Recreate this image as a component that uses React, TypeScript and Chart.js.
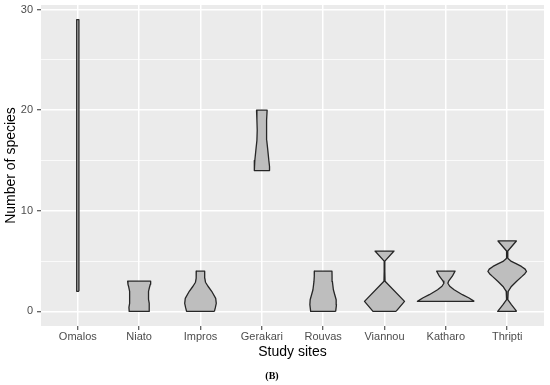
import React, { useEffect, useRef } from 'react';
import { Chart, registerables } from 'chart.js';

Chart.register(...registerables);

// Categories and axis ticks
const sites = ['Omalos', 'Niato', 'Impros', 'Gerakari', 'Rouvas', 'Viannou', 'Katharo', 'Thripti'];
const yTicks = [0, 5, 10, 15, 20, 25, 30];

// Violin profiles: number-of-species levels (ascending) and relative density widths
const omalosLevels = [2, 15, 29];
const omalosWidths = [0.04, 0.04, 0.04];

const niatoLevels = [0, 0.4, 0.8, 1.2, 1.6, 2, 2.4, 2.7, 3];
const niatoWidths = [0.36, 0.37, 0.36, 0.34, 0.335, 0.345, 0.375, 0.405, 0.417];

const imprIosLevels = [0, 0.35, 0.8, 1.3, 2, 2.5, 2.9, 3.3, 4];
const imprIosWidths = [0.504, 0.536, 0.572, 0.551, 0.406, 0.272, 0.181, 0.156, 0.152];

const gerakariLevels = [14, 14.4, 15, 16, 17, 18, 19, 20];
const gerakariWidths = [0.264, 0.279, 0.254, 0.217, 0.178, 0.167, 0.178, 0.192];

const rouvasLevels = [0, 0.67, 1.16, 1.66, 2.15, 2.98, 3.5, 4];
const rouvasWidths = [0.453, 0.482, 0.471, 0.42, 0.37, 0.333, 0.322, 0.319];

const viannouLevels = [0, 1, 3, 4, 5, 6];
const viannouWidths = [0.417, 0.725, 0.02, 0.012, 0.012, 0.344];

const katharoLevels = [1, 1.33, 1.66, 2.15, 2.5, 2.8, 3, 3.5, 4];
const katharoWidths = [1.03, 0.84, 0.6, 0.3, 0.14, 0.072, 0.1, 0.235, 0.333];

const thriptiLevels = [0, 0.67, 1.16, 1.99, 2.48, 2.98, 3.48, 3.75, 3.97, 4.2, 4.47, 4.75, 4.97, 5.2, 5.3, 6, 7];
const thriptiWidths = [0.344, 0.152, 0.022, 0.036, 0.152, 0.333, 0.536, 0.64, 0.7, 0.65, 0.514, 0.32, 0.152, 0.05, 0.022, 0.022, 0.333];

const profiles: [number[], number[]][] = [
  [omalosLevels, omalosWidths],
  [niatoLevels, niatoWidths],
  [imprIosLevels, imprIosWidths],
  [gerakariLevels, gerakariWidths],
  [rouvasLevels, rouvasWidths],
  [viannouLevels, viannouWidths],
  [katharoLevels, katharoWidths],
  [thriptiLevels, thriptiWidths],
];

const VIOLIN_HALF = 0.45;
const SANS = "'Liberation Sans', Arial, sans-serif";

function outline(i: number, levels: number[], widths: number[]) {
  const right = levels.map((v, k) => ({ x: i + widths[k] * VIOLIN_HALF, y: v }));
  const left = levels.map((v, k) => ({ x: i - widths[k] * VIOLIN_HALF, y: v })).reverse();
  return [...right, ...left, right[0]];
}

const panelBg = {
  id: 'panelBg',
  beforeDraw(chart: any) {
    const { ctx, chartArea } = chart;
    ctx.save();
    ctx.fillStyle = '#EBEBEB';
    ctx.fillRect(chartArea.left, chartArea.top, chartArea.right - chartArea.left, chartArea.bottom - chartArea.top);
    ctx.restore();
  },
};

export default function App() {
  const ref = useRef<HTMLCanvasElement | null>(null);
  useEffect(() => {
    if (!ref.current) return;
    const datasets = profiles.map(([lv, wd], i) => ({
      label: sites[i],
      data: outline(i, lv, wd),
      borderColor: '#262626',
      borderWidth: 1.3,
      backgroundColor: '#BEBEBE',
      fill: 'shape',
      pointRadius: 0,
      tension: 0,
      borderJoinStyle: 'round',
    }));
    const chart = new Chart(ref.current, {
      type: 'line',
      data: { datasets } as any,
      plugins: [panelBg],
      options: {
        animation: false,
        responsive: false,
        devicePixelRatio: 1,
        layout: { padding: { left: 0, right: 6, top: 5, bottom: 3 } },
        plugins: {
          legend: { display: false },
          tooltip: { enabled: false },
          title: {
            display: true,
            position: 'bottom',
            text: '(B)',
            color: '#000',
            font: { family: "'Liberation Serif', 'Times New Roman', serif", size: 10, weight: 'bold', lineHeight: 1.2 },
            padding: { top: 0, bottom: 0 },
          },
        },
        scales: {
          x: {
            type: 'linear',
            min: -0.6,
            max: 7.6,
            afterBuildTicks: (s: any) => {
              s.ticks = sites.map((_, i) => ({ value: i }));
            },
            ticks: {
              callback: (v: any) => sites[v as number] ?? '',
              autoSkip: false,
              maxRotation: 0,
              minRotation: 0,
              color: '#4D4D4D',
              font: { family: SANS, size: 11 },
              padding: 0,
            },
            grid: { color: '#FFFFFF', lineWidth: 1.5, tickColor: '#333333', tickLength: 4, tickWidth: 1 },
            border: { display: false },
            title: { display: true, text: 'Study sites', color: '#000', font: { family: SANS, size: 14 }, padding: { top: 0, bottom: 9 } },
            afterFit: (s: any) => {
              s.height = 44;
              s.paddingLeft = 0;
              s.paddingRight = 0;
            },
          },
          y: {
            type: 'linear',
            min: -1.45,
            max: 30.45,
            afterBuildTicks: (s: any) => {
              s.ticks = yTicks.map((v) => ({ value: v }));
            },
            ticks: {
              callback: (v: any) => ((v as number) % 10 === 0 ? String(v) : ''),
              color: '#4D4D4D',
              font: { family: SANS, size: 11 },
              padding: 4,
            },
            grid: {
              color: '#FFFFFF',
              lineWidth: (c: any) => (c.tick && c.tick.value % 10 === 0 ? 1.5 : 0.75),
              tickColor: (c: any) => (c.tick && c.tick.value % 10 === 0 ? '#333333' : 'rgba(0,0,0,0)'),
              tickLength: 4,
              tickWidth: 1,
            },
            border: { display: false },
            title: { display: true, text: 'Number of species', color: '#000', font: { family: SANS, size: 14 }, padding: { top: 3, bottom: 0 } },
            afterFit: (s: any) => {
              s.width = 41;
              s.paddingTop = 0;
              s.paddingBottom = 0;
            },
          },
        },
      } as any,
    });
    return () => chart.destroy();
  }, []);
  return (
    <div style={{ position: 'absolute', left: 0, top: 0, width: 550, height: 385 }}>
      <canvas ref={ref} width={550} height={385} />
    </div>
  );
}
